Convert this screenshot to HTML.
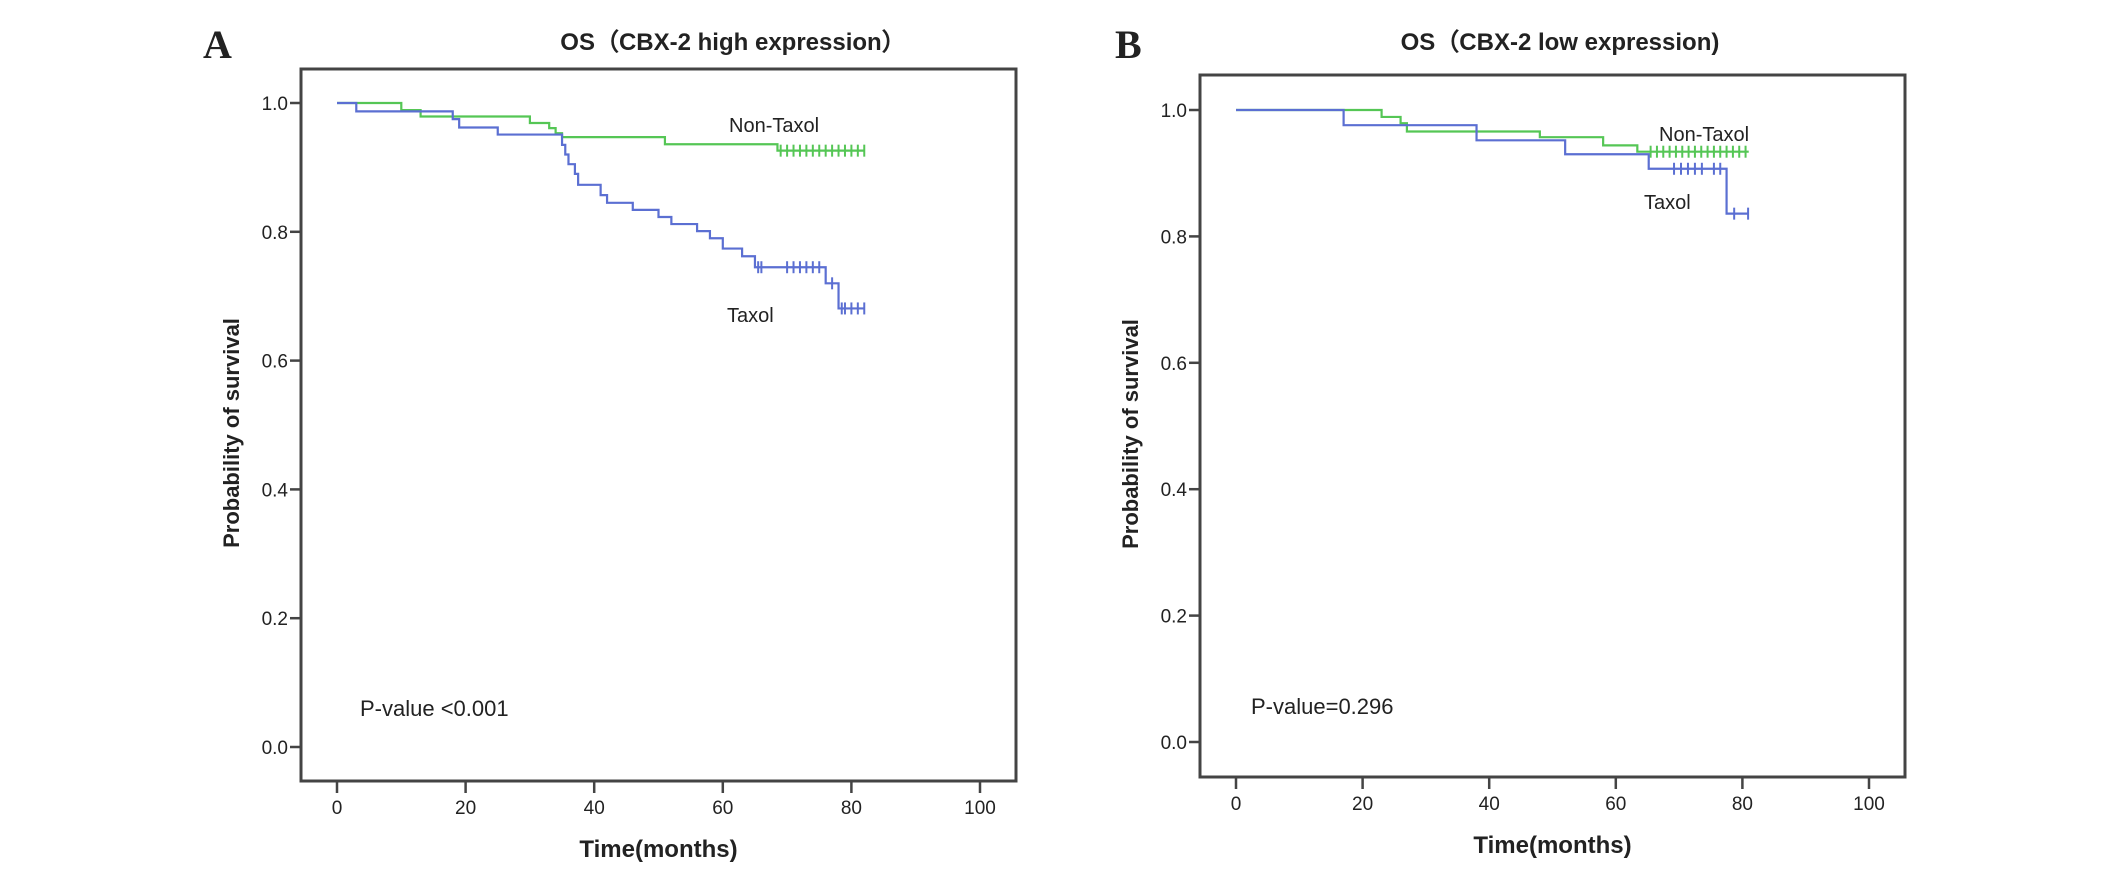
<!DOCTYPE html>
<html><head><meta charset="utf-8"><style>
html,body{margin:0;padding:0;background:#fff;}
svg{display:block;}
text{font-family:"Liberation Sans",sans-serif;fill:#222;}
</style></head><body>
<svg id="fig" width="2126" height="877" viewBox="0 0 2126 877"></svg>
<script>
// Panel A data (CBX-2 high)
const aGreenT = [0,10,13,30,33,34,35,51,68.5];
const aGreenS = [1,0.989,0.979,0.969,0.961,0.953,0.947,0.936,0.926];
const aGreenEnd = 82;
const aGreenCens = [69,70,71,72,73,74,75,76,77,78,79,80,81,82];
const aBlueT = [0,3,18,19,25,35,35.5,36,37,37.5,41,42,46,50,52,56,58,60,63,65,76,78];
const aBlueS = [1,0.987,0.975,0.962,0.951,0.935,0.92,0.905,0.89,0.873,0.857,0.845,0.834,0.823,0.812,0.801,0.79,0.774,0.762,0.745,0.72,0.681];
const aBlueEnd = 82;
const aBlueCens = [65.5,66,70,71,72,73,74,75,77,78.5,79,80,81,82];
// Panel B data (CBX-2 low)
const bGreenT = [0,23,26,27,48,58,63.4];
const bGreenS = [1,0.989,0.979,0.966,0.957,0.944,0.934];
const bGreenEnd = 81;
const bGreenCens = [65.5,66.5,67.5,68.5,69.5,70.5,71.5,72.5,73.5,74.5,75.5,76.5,77.5,78.5,79.5,80.5];
const bBlueT = [0,17,38,52,65.2,77.5];
const bBlueS = [1,0.976,0.952,0.930,0.907,0.836];
const bBlueEnd = 81;
const bBlueCens = [69.2,70.3,71.4,72.5,73.6,75.5,76.5,78.7,80.9];
const xTicks = [0,20,40,60,80,100];
const yTicks = [0,0.2,0.4,0.6,0.8,1.0];

const NS='http://www.w3.org/2000/svg';
const svg=document.getElementById('fig');
function mk(tag,attrs,parent){const e=document.createElementNS(NS,tag);for(const k in attrs)e.setAttribute(k,attrs[k]);(parent||svg).appendChild(e);return e;}

function panel(p){
  const g=mk('g',{});
  
  
  const xs=v=>p.x0+(p.x100-p.x0)*v/100;
  const ys=v=>p.y0+(p.y1-p.y0)*v;
  const box=mk('rect',{x:p.L,y:p.T,width:p.R-p.L,height:p.B-p.T,fill:'none',stroke:'#444','stroke-width':3},g);
  
  
  yTicks.forEach(v=>{
    const t=mk('line',{x1:p.L-11,x2:p.L,y1:ys(v),y2:ys(v),stroke:'#444','stroke-width':2.5},g);
    
    
    const tx=mk('text',{x:p.L-13,y:ys(v)+7,'text-anchor':'end','font-size':19},g);
    tx.textContent=v.toFixed(1);
    
    
  });
  xTicks.forEach(v=>{
    const t=mk('line',{x1:xs(v),x2:xs(v),y1:p.B,y2:p.B+12,stroke:'#444','stroke-width':2.5},g);
    
    
    const tx=mk('text',{x:xs(v),y:p.B+33,'text-anchor':'middle','font-size':19},g);
    tx.textContent=String(v);
    
    
  });
  function curve(T,S,end,cens,color,name){
    let d='M'+xs(T[0])+','+ys(S[0]);
    for(let i=1;i<T.length;i++){d+=' H'+xs(T[i])+' V'+ys(S[i]);}
    d+=' H'+xs(end);
    const path=mk('path',{d:d,fill:'none',stroke:color,'stroke-width':2.2},g);
    
    
    cens.forEach(c=>{
      let s=S[0];for(let i=0;i<T.length;i++){if(T[i]<=c)s=S[i];}
      const m=mk('line',{x1:xs(c),x2:xs(c),y1:ys(s)-6,y2:ys(s)+6,stroke:color,'stroke-width':2},g);
      
      
    });
  }
  curve(p.gT,p.gS,p.gE,p.gC,'#55c655','non-taxol');
  curve(p.bT,p.bS,p.bE,p.bC,'#5b6fd2','taxol');
  const lab=[['Non-Taxol',p.ntx,p.nty,'non-taxol-label'],['Taxol',p.tx,p.ty,'taxol-label']];
  lab.forEach(l=>{const t=mk('text',{x:l[1],y:l[2]+7,'font-size':20},g);t.textContent=l[0];
    
    });
  const pv=mk('text',{x:p.pvx,y:p.pvy+8,'font-size':22},g);pv.textContent=p.pv;
  
  
  const tt=mk('text',{x:p.titleX,y:50,'text-anchor':'middle','font-size':24,'font-weight':'bold'},g);
  tt.textContent=p.title;
  
  
  const letter=mk('text',{x:p.letX,y:58,'font-size':40,'font-weight':'bold'},g);
  letter.textContent=p.letter;letter.setAttribute('style','font-family:"Liberation Serif",serif');
  
  
  const yl=mk('text',{x:0,y:0,'text-anchor':'middle','font-size':22,'font-weight':'bold',transform:'translate('+(p.L-62)+','+((p.T+p.B)/2+8)+') rotate(-90)'},g);
  yl.textContent='Probability of survival';
  
  
  const xl=mk('text',{x:(p.L+p.R)/2,y:p.B+76,'text-anchor':'middle','font-size':24,'font-weight':'bold'},g);
  xl.textContent='Time(months)';
  
  
}
panel({id:'a',L:301,R:1016,T:69,B:781,x0:337,x100:980,y0:747,y1:103,
  gT:aGreenT,gS:aGreenS,gE:aGreenEnd,gC:aGreenCens,bT:aBlueT,bS:aBlueS,bE:aBlueEnd,bC:aBlueCens,
  ntx:729,nty:125,tx:727,ty:315,pvx:360,pvy:708,pv:'P-value <0.001',
  title:'OS\uFF08CBX-2 high expression\uFF09',titleX:733,letter:'A',letX:203});
panel({id:'b',L:1200,R:1905,T:75,B:777,x0:1236,x100:1869,y0:742,y1:110,
  gT:bGreenT,gS:bGreenS,gE:bGreenEnd,gC:bGreenCens,bT:bBlueT,bS:bBlueS,bE:bBlueEnd,bC:bBlueCens,
  ntx:1659,nty:134,tx:1644,ty:202,pvx:1251,pvy:706,pv:'P-value=0.296',
  title:'OS\uFF08CBX-2 low expression)',titleX:1560,letter:'B',letX:1115});
</script>
</body></html>
